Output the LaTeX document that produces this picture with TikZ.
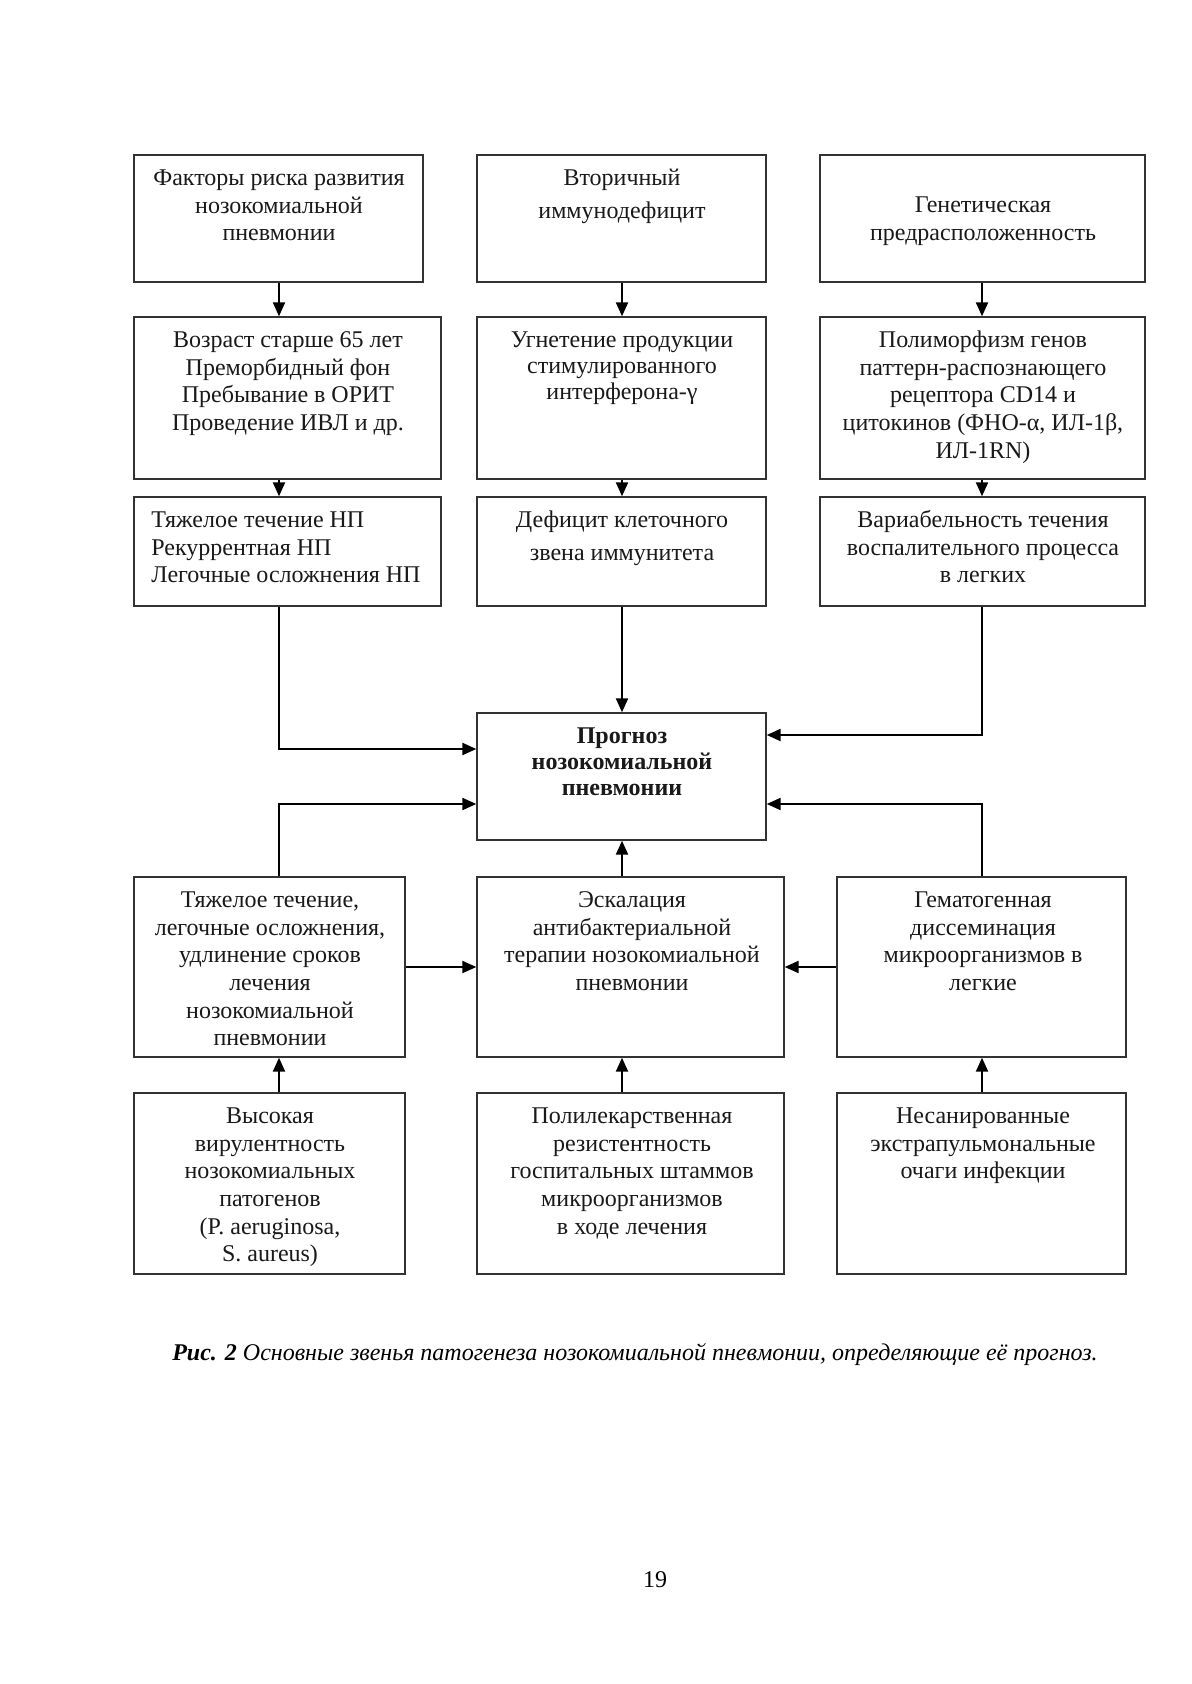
\documentclass[tikz,border=0pt]{standalone}
\usepackage{fontspec}
\setmainfont{Liberation Serif}
\usetikzlibrary{arrows.meta,fit}
\begin{document}
\begin{tikzpicture}[x=0.5pt,y=-0.5pt,
  box/.style={draw=black!80, line width=0.7pt, inner sep=0pt},
  txt/.style={inner sep=0pt, align=center, anchor=north, font=\fontsize{12}{13.8}\selectfont, text=black!90},
  arr/.style={draw=black, line width=1.1pt, -{Triangle[length=7pt,width=6pt]}}]
\useasboundingbox (0,0) rectangle (1191,1684);
\fill[white] (0,0) rectangle (1191,1684);
% boxes
\node[box, fit={(134,155)(423,282)}] (A1) {};
\node[box, fit={(477,155)(766,282)}] (B1) {};
\node[box, fit={(820,155)(1145,282)}] (C1) {};
\node[box, fit={(134,317)(441,479)}] (A2) {};
\node[box, fit={(477,317)(766,479)}] (B2) {};
\node[box, fit={(820,317)(1145,479)}] (C2) {};
\node[box, fit={(134,497)(441,606)}] (A3) {};
\node[box, fit={(477,497)(766,606)}] (B3) {};
\node[box, fit={(820,497)(1145,606)}] (C3) {};
\node[box, fit={(477,713)(766,840)}] (P) {};
\node[box, fit={(134,877)(405,1057)}] (A4) {};
\node[box, fit={(477,877)(784,1057)}] (B4) {};
\node[box, fit={(837,877)(1126,1057)}] (C4) {};
\node[box, fit={(134,1093)(405,1274)}] (A5) {};
\node[box, fit={(477,1093)(784,1274)}] (B5) {};
\node[box, fit={(837,1093)(1126,1274)}] (C5) {};
% texts
\node[txt] (tA1) at (279,166) {\strut Факторы риска развития\\нозокомиальной\\пневмонии};
\node[txt] (tB1) at (622,166) {\strut Вторичный\\[2.4pt]иммунодефицит};
\node[txt] (tC1) at (983,193) {\strut Генетическая\\предрасположенность};
\node[txt] (tA2) at (288,328) {\strut Возраст старше 65 лет\\Преморбидный фон\\Пребывание в ОРИТ\\Проведение ИВЛ и др.};
\node[txt] (tB2) at (622,328) {\strut Угнетение продукции\\[-0.85pt]стимулированного\\[-0.85pt]интерферона-γ};
\node[txt] (tC2) at (983,328) {\strut Полиморфизм генов\\паттерн-распознающего\\рецептора CD14 и\\цитокинов (ФНО-α, ИЛ-1β,\\ИЛ-1RN)};
\node[txt, anchor=north west, align=left] (tA3) at (151,508) {\strut Тяжелое течение НП\\Рекуррентная НП\\Легочные осложнения НП};
\node[txt] (tB3) at (622,508) {\strut Дефицит клеточного\\[2.4pt]звена иммунитета};
\node[txt] (tC3) at (983,508) {\strut Вариабельность течения\\воспалительного процесса\\в легких};
\node[txt, font=\fontsize{12}{13.8}\selectfont\bfseries] (tP) at (622,724) {\strut Прогноз\\[-0.85pt]нозокомиальной\\[-0.85pt]пневмонии};
\node[txt] (tA4) at (270,888) {\strut Тяжелое течение,\\легочные осложнения,\\удлинение сроков\\лечения\\нозокомиальной\\пневмонии};
\node[txt] (tB4) at (632,888) {\strut Эскалация\\антибактериальной\\терапии нозокомиальной\\пневмонии};
\node[txt] (tC4) at (983,888) {\strut Гематогенная\\диссеминация\\микроорганизмов в\\легкие};
\node[txt] (tA5) at (270,1104) {\strut Высокая\\вирулентность\\нозокомиальных\\патогенов\\(P. aeruginosa,\\S. aureus)};
\node[txt] (tB5) at (632,1104) {\strut Полилекарственная\\резистентность\\госпитальных штаммов\\микроорганизмов\\в ходе лечения};
\node[txt] (tC5) at (983,1104) {\strut Несанированные\\экстрапульмональные\\очаги инфекции};
% connector coordinates
\coordinate (cA) at (279,0);
\coordinate (cB) at (622,0);
\coordinate (cC) at (982,0);
\coordinate (yA3) at (0,749);
\coordinate (yC3) at (0,735);
\coordinate (yLow) at (0,804);
\coordinate (yMid) at (0,967);
% connectors
\draw[arr] (A1.south -| cA) -- (A2.north -| cA);
\draw[arr] (B1.south -| cB) -- (B2.north -| cB);
\draw[arr] (C1.south -| cC) -- (C2.north -| cC);
\draw[arr] (A2.south -| cA) -- (A3.north -| cA);
\draw[arr] (B2.south -| cB) -- (B3.north -| cB);
\draw[arr] (C2.south -| cC) -- (C3.north -| cC);
\draw[arr] (A3.south -| cA) |- (P.west |- yA3);
\draw[arr] (B3.south -| cB) -- (P.north -| cB);
\draw[arr] (C3.south -| cC) |- (P.east |- yC3);
\draw[arr] (A4.north -| cA) |- (P.west |- yLow);
\draw[arr] (C4.north -| cC) |- (P.east |- yLow);
\draw[arr] (B4.north -| cB) -- (P.south -| cB);
\draw[arr] (A4.east |- yMid) -- (B4.west |- yMid);
\draw[arr] (C4.west |- yMid) -- (B4.east |- yMid);
\draw[arr] (A5.north -| cA) -- (A4.south -| cA);
\draw[arr] (B5.north -| cB) -- (B4.south -| cB);
\draw[arr] (C5.north -| cC) -- (C4.south -| cC);
% caption and page number
\node[inner sep=0pt, font=\fontsize{12}{14}\selectfont] (cap) at (635,1355) {\textbf{\textit{Рис. 2}} \textit{Основные звенья патогенеза нозокомиальной пневмонии, определяющие её прогноз.}};
\node[inner sep=0pt, font=\fontsize{12}{14}\selectfont] (pg) at (655,1580) {19};
\end{tikzpicture}
\end{document}
